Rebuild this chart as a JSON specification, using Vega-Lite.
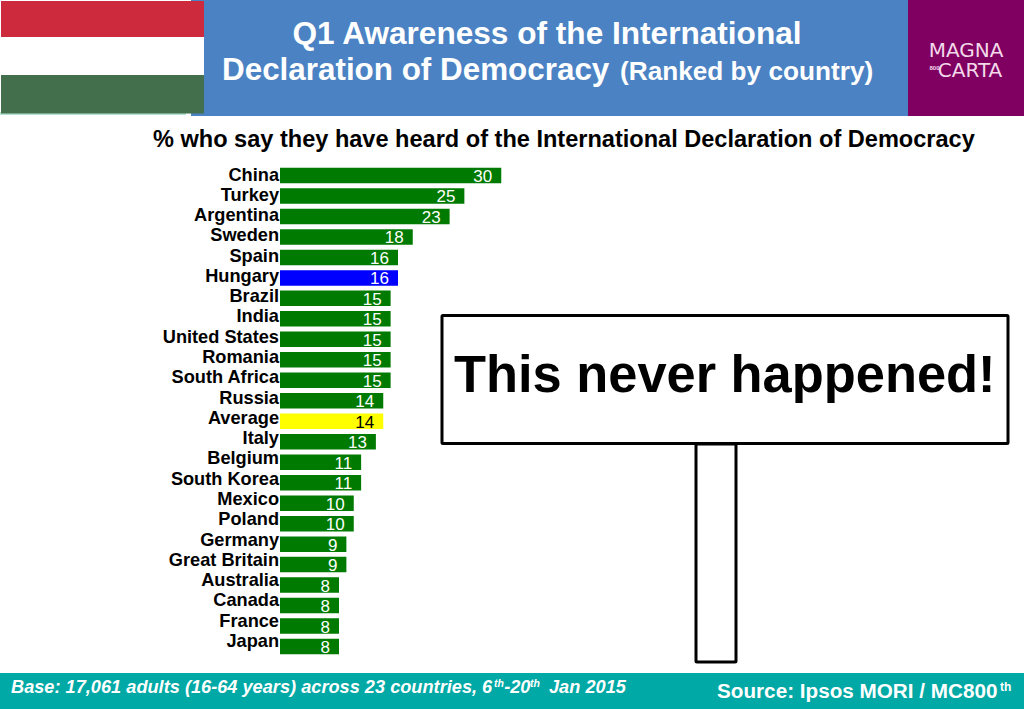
{
  "$schema": "https://vega.github.io/schema/vega-lite/v6.json",
  "description": "Awareness of the International Declaration of Democracy, ranked by country",
  "width": 1024,
  "height": 709,
  "autosize": {"type": "none"},
  "padding": 0,
  "background": "white",
  "view": {"stroke": null},
  "config": {"text": {"font": "Liberation Sans"}},
  "datasets": {
    "countries": [
      {"country": "China", "pct": 30, "rank": 1, "group": "Country"},
      {"country": "Turkey", "pct": 25, "rank": 2, "group": "Country"},
      {"country": "Argentina", "pct": 23, "rank": 3, "group": "Country"},
      {"country": "Sweden", "pct": 18, "rank": 4, "group": "Country"},
      {"country": "Spain", "pct": 16, "rank": 5, "group": "Country"},
      {"country": "Hungary", "pct": 16, "rank": 6, "group": "Hungary"},
      {"country": "Brazil", "pct": 15, "rank": 7, "group": "Country"},
      {"country": "India", "pct": 15, "rank": 8, "group": "Country"},
      {"country": "United States", "pct": 15, "rank": 9, "group": "Country"},
      {"country": "Romania", "pct": 15, "rank": 10, "group": "Country"},
      {"country": "South Africa", "pct": 15, "rank": 11, "group": "Country"},
      {"country": "Russia", "pct": 14, "rank": 12, "group": "Country"},
      {"country": "Average", "pct": 14, "rank": 13, "group": "Average"},
      {"country": "Italy", "pct": 13, "rank": 14, "group": "Country"},
      {"country": "Belgium", "pct": 11, "rank": 15, "group": "Country"},
      {"country": "South Korea", "pct": 11, "rank": 16, "group": "Country"},
      {"country": "Mexico", "pct": 10, "rank": 17, "group": "Country"},
      {"country": "Poland", "pct": 10, "rank": 18, "group": "Country"},
      {"country": "Germany", "pct": 9, "rank": 19, "group": "Country"},
      {"country": "Great Britain", "pct": 9, "rank": 20, "group": "Country"},
      {"country": "Australia", "pct": 8, "rank": 21, "group": "Country"},
      {"country": "Canada", "pct": 8, "rank": 22, "group": "Country"},
      {"country": "France", "pct": 8, "rank": 23, "group": "Country"},
      {"country": "Japan", "pct": 8, "rank": 24, "group": "Country"}
    ]
  },
  "layer": [
    {
      "layer": [
        {
          "data": {"values": [{"part": "header"}]},
          "mark": {"type": "rect", "color": "#4a82c3"},
          "encoding": {
            "x": {"datum": -12.068, "type": "quantitative", "axis": null, "scale": {"domain": [-37.966, 100.881], "nice": false, "zero": false, "padding": 0}},
            "x2": {"datum": 85.153},
            "y": {"datum": -7.569, "type": "quantitative", "axis": null, "scale": {"domain": [-7.569, 27.05], "reverse": true, "nice": false, "zero": false, "padding": 0}},
            "y2": {"datum": -1.905}
          }
        },
        {
          "data": {"values": [{"part": "logo"}]},
          "mark": {"type": "rect", "color": "#7f0060"},
          "encoding": {
            "x": {"datum": 85.153, "type": "quantitative"}, "x2": {"datum": 100.881},
            "y": {"datum": -7.569, "type": "quantitative"}, "y2": {"datum": -1.905}
          }
        },
        {
          "data": {"values": [{"part": "flag edge"}]},
          "mark": {"type": "rect", "color": "#b5e2d2"},
          "encoding": {
            "x": {"datum": -37.966, "type": "quantitative"}, "x2": {"datum": -12.746},
            "y": {"datum": -2.1, "type": "quantitative"}, "y2": {"datum": -1.954}
          }
        },
        {
          "data": {"values": [{"part": "flag red"}]},
          "mark": {"type": "rect", "color": "#cd2a3e"},
          "encoding": {
            "x": {"datum": -37.83, "type": "quantitative"}, "x2": {"datum": -10.305},
            "y": {"datum": -7.52, "type": "quantitative"}, "y2": {"datum": -5.763}
          }
        },
        {
          "data": {"values": [{"part": "flag white"}]},
          "mark": {"type": "rect", "color": "#ffffff"},
          "encoding": {
            "x": {"datum": -37.83, "type": "quantitative"}, "x2": {"datum": -10.305},
            "y": {"datum": -5.763, "type": "quantitative"}, "y2": {"datum": -3.907}
          }
        },
        {
          "data": {"values": [{"part": "flag green"}]},
          "mark": {"type": "rect", "color": "#436f4d"},
          "encoding": {
            "x": {"datum": -37.83, "type": "quantitative"}, "x2": {"datum": -10.305},
            "y": {"datum": -3.907, "type": "quantitative"}, "y2": {"datum": -2.027}
          }
        },
        {
          "data": {"values": [{"part": "footer"}]},
          "mark": {"type": "rect", "color": "#00a9a5"},
          "encoding": {
            "x": {"datum": -37.966, "type": "quantitative"}, "x2": {"datum": 100.881},
            "y": {"datum": 25.292, "type": "quantitative"}, "y2": {"datum": 27.05}
          }
        },
        {
          "data": {"values": [{"part": "post"}]},
          "mark": {"type": "rect", "fill": "white", "stroke": "black", "strokeWidth": 3, "cornerRadius": 1},
          "encoding": {
            "x": {"datum": 56.407, "type": "quantitative"}, "x2": {"datum": 61.83},
            "y": {"datum": 14.11, "type": "quantitative"}, "y2": {"datum": 24.755}
          }
        },
        {
          "data": {"values": [{"part": "sign"}]},
          "mark": {"type": "rect", "fill": "white", "stroke": "black", "strokeWidth": 3, "cornerRadius": 1},
          "encoding": {
            "x": {"datum": 21.966, "type": "quantitative"}, "x2": {"datum": 98.712},
            "y": {"datum": 7.836, "type": "quantitative"}, "y2": {"datum": 14.086}
          }
        },
        {
          "data": {"name": "countries"},
          "mark": {"type": "bar", "orient": "horizontal", "size": 15.5},
          "encoding": {
            "x": {"field": "pct", "type": "quantitative"},
            "y": {"field": "rank", "type": "quantitative"},
            "color": {
              "field": "group",
              "type": "nominal",
              "legend": null,
              "scale": {"domain": ["Country", "Hungary", "Average"], "range": ["#007a00", "#0000ff", "#ffff00"]}
            }
          }
        },
        {
          "data": {"name": "countries"},
          "mark": {"type": "text", "align": "right", "baseline": "middle", "dx": -9, "dy": 1.5, "fontSize": 17},
          "encoding": {
            "x": {"field": "pct", "type": "quantitative"},
            "y": {"field": "rank", "type": "quantitative"},
            "text": {"field": "pct", "type": "quantitative"},
            "color": {"condition": {"test": "datum.group === 'Average'", "value": "black"}, "value": "white"}
          }
        },
        {
          "data": {"values": [{"label": "Q1 Awareness of the International"}]},
          "mark": {"type": "text", "align": "center", "baseline": "alphabetic", "fontWeight": "bold", "fontSize": 31.6, "color": "white"},
          "encoding": {"x": {"datum": 36.2, "type": "quantitative"}, "y": {"datum": -5.421, "type": "quantitative"}, "text": {"field": "label"}}
        },
        {
          "data": {"values": [{"label": "Declaration of Democracy"}]},
          "mark": {"type": "text", "align": "left", "baseline": "alphabetic", "fontWeight": "bold", "fontSize": 31.4, "color": "white"},
          "encoding": {"x": {"datum": -7.864, "type": "quantitative"}, "y": {"datum": -3.663, "type": "quantitative"}, "text": {"field": "label"}}
        },
        {
          "data": {"values": [{"label": "(Ranked by country)"}]},
          "mark": {"type": "text", "align": "left", "baseline": "alphabetic", "fontWeight": "bold", "fontSize": 26.2, "color": "white"},
          "encoding": {"x": {"datum": 46.102, "type": "quantitative"}, "y": {"datum": -3.663, "type": "quantitative"}, "text": {"field": "label"}}
        },
        {
          "data": {"values": [{"label": "% who say they have heard of the International Declaration of Democracy"}]},
          "mark": {"type": "text", "align": "left", "baseline": "alphabetic", "fontWeight": "bold", "fontSize": 23.55, "color": "black"},
          "encoding": {"x": {"datum": -17.22, "type": "quantitative"}, "y": {"datum": -0.392, "type": "quantitative"}, "text": {"field": "label"}}
        },
        {
          "data": {"values": [{"label": "MAGNA"}]},
          "mark": {"type": "text", "align": "center", "baseline": "alphabetic", "font": "DejaVu Sans", "fontSize": 20, "color": "#f3d9ea"},
          "encoding": {"x": {"datum": 93.017, "type": "quantitative"}, "y": {"datum": -4.762, "type": "quantitative"}, "text": {"field": "label"}}
        },
        {
          "data": {"values": [{"label": "CARTA"}]},
          "mark": {"type": "text", "align": "center", "baseline": "alphabetic", "font": "DejaVu Sans", "fontSize": 20, "color": "#f3d9ea"},
          "encoding": {"x": {"datum": 93.56, "type": "quantitative"}, "y": {"datum": -3.785, "type": "quantitative"}, "text": {"field": "label"}}
        },
        {
          "data": {"values": [{"label": "800"}]},
          "mark": {"type": "text", "align": "center", "baseline": "alphabetic", "fontWeight": "bold", "fontSize": 6, "color": "#f3d9ea"},
          "encoding": {"x": {"datum": 88.75, "type": "quantitative"}, "y": {"datum": -4.15, "type": "quantitative"}, "text": {"field": "label"}}
        },
        {
          "data": {"values": [{"label": "This never happened!"}]},
          "mark": {"type": "text", "align": "left", "baseline": "alphabetic", "fontWeight": "bold", "fontSize": 52.4, "color": "black"},
          "encoding": {"x": {"datum": 23.593, "type": "quantitative"}, "y": {"datum": 11.571, "type": "quantitative"}, "text": {"field": "label"}}
        },
        {
          "data": {"values": [{"label": "Base: 17,061 adults (16-64 years) across 23 countries, 6"}]},
          "mark": {"type": "text", "align": "left", "baseline": "alphabetic", "fontWeight": "bold", "fontStyle": "italic", "fontSize": 18.2, "color": "white"},
          "encoding": {"x": {"datum": -36.475, "type": "quantitative"}, "y": {"datum": 26.269, "type": "quantitative"}, "text": {"field": "label"}}
        },
        {
          "data": {"values": [{"label": "th"}]},
          "mark": {"type": "text", "align": "left", "baseline": "alphabetic", "fontWeight": "bold", "fontStyle": "italic", "fontSize": 10.5, "color": "white"},
          "encoding": {"x": {"datum": 29.017, "type": "quantitative"}, "y": {"datum": 25.976, "type": "quantitative"}, "text": {"field": "label"}}
        },
        {
          "data": {"values": [{"label": "-20"}]},
          "mark": {"type": "text", "align": "left", "baseline": "alphabetic", "fontWeight": "bold", "fontStyle": "italic", "fontSize": 18.2, "color": "white"},
          "encoding": {"x": {"datum": 30.4, "type": "quantitative"}, "y": {"datum": 26.269, "type": "quantitative"}, "text": {"field": "label"}}
        },
        {
          "data": {"values": [{"label": "th"}]},
          "mark": {"type": "text", "align": "left", "baseline": "alphabetic", "fontWeight": "bold", "fontStyle": "italic", "fontSize": 10.5, "color": "white"},
          "encoding": {"x": {"datum": 33.9, "type": "quantitative"}, "y": {"datum": 25.976, "type": "quantitative"}, "text": {"field": "label"}}
        },
        {
          "data": {"values": [{"label": "Jan 2015"}]},
          "mark": {"type": "text", "align": "left", "baseline": "alphabetic", "fontWeight": "bold", "fontStyle": "italic", "fontSize": 18.2, "color": "white"},
          "encoding": {"x": {"datum": 36.475, "type": "quantitative"}, "y": {"datum": 26.269, "type": "quantitative"}, "text": {"field": "label"}}
        },
        {
          "data": {"values": [{"label": "Source: Ipsos MORI / MC800"}]},
          "mark": {"type": "text", "align": "left", "baseline": "alphabetic", "fontWeight": "bold", "fontSize": 20.7, "color": "white"},
          "encoding": {"x": {"datum": 59.254, "type": "quantitative"}, "y": {"datum": 26.513, "type": "quantitative"}, "text": {"field": "label"}}
        },
        {
          "data": {"values": [{"label": "th"}]},
          "mark": {"type": "text", "align": "left", "baseline": "alphabetic", "fontWeight": "bold", "fontSize": 12, "color": "white"},
          "encoding": {"x": {"datum": 97.627, "type": "quantitative"}, "y": {"datum": 26.171, "type": "quantitative"}, "text": {"field": "label"}}
        }
      ]
    },
    {
      "data": {"name": "countries"},
      "mark": {"type": "text", "align": "right", "baseline": "middle", "dx": -1, "fontWeight": "bold", "fontSize": 18.2, "color": "black"},
      "encoding": {
        "x": {"datum": 0, "type": "quantitative"},
        "y": {"field": "rank", "type": "quantitative", "axis": null, "scale": {"domain": [-7.654, 27.307], "reverse": true, "nice": false, "zero": false, "padding": 0}},
        "text": {"field": "country"}
      }
    }
  ],
  "resolve": {"scale": {"y": "independent"}}
}
